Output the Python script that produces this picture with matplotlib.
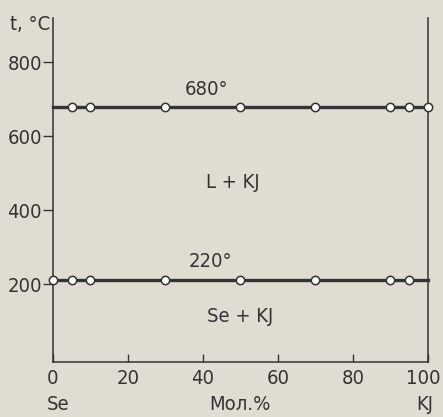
import matplotlib.pyplot as plt
import matplotlib.transforms as mtransforms

# composition, mol.% KJ
comp_680 = [5, 10, 30, 50, 70, 90, 95, 100]
comp_220 = [0, 5, 10, 30, 50, 70, 90, 95]
t_liquidus = 680
t_eutectic = 212

xticks = [0, 20, 40, 60, 80, 100]
yticks = [200, 400, 600, 800]

plt.rcParams['font.family'] = ['DejaVu Sans']
plt.rcParams['font.stretch'] = 'condensed'
ink = '#333333'
paper = '#dfddd1'
fs = 14.5

fig = plt.figure(figsize=(4.43, 4.17), dpi=100, facecolor=paper)
ax = fig.add_axes([0.1196, 0.132, 0.8464, 0.825])
ax.set_facecolor(paper)

for comp, t in [(comp_680, t_liquidus), (comp_220, t_eutectic)]:
    ax.plot([0, 100], [t, t], color=ink, lw=2.4, clip_on=False, zorder=2)
    ax.plot(comp, [t] * len(comp), ls='none', marker='o', ms=6, mfc='white',
            mec=ink, mew=1.1, clip_on=False, zorder=3)

ax.set_xlim(0, 100)
ax.set_ylim(-10, 920)
ax.spines['top'].set_visible(False)
for s in ['left', 'right', 'bottom']:
    ax.spines[s].set_linewidth(1.1)
    ax.spines[s].set_color(ink)

ax.set_xticks(xticks)
ax.set_yticks(yticks)
ax.tick_params(axis='x', direction='in', length=6, width=1, pad=5, colors=ink, labelsize=fs)
ax.tick_params(axis='y', direction='out', length=7, width=1, pad=1, colors=ink, labelsize=fs)

# nudge the "100" label left so it stays inside the figure
last = ax.get_xticklabels()[-1]
last.set_transform(last.get_transform() +
                   mtransforms.ScaledTranslation(-5 / 100, 0, fig.dpi_scale_trans))

ax.text(41, 726, '680°', ha='center', va='center', fontsize=fs, color=ink)
ax.text(48, 475, 'L + KJ', ha='center', va='center', fontsize=fs, color=ink)
ax.text(42, 262, '220°', ha='center', va='center', fontsize=fs, color=ink)
ax.text(50, 112, 'Se + KJ', ha='center', va='center', fontsize=fs, color=ink)

fig.text(30 / 443, 1 - 25 / 417, 't, °C', ha='center', va='center', fontsize=fs, color=ink)
fig.text(58 / 443, 1 - 405 / 417, 'Se', ha='center', va='center', fontsize=fs, color=ink)
fig.text(240 / 443, 1 - 405 / 417, 'Мол.%', ha='center', va='center', fontsize=fs, color=ink)
fig.text(425 / 443, 1 - 405 / 417, 'KJ', ha='center', va='center', fontsize=fs, color=ink)

fig.savefig('out.png', dpi=100, facecolor=paper)
